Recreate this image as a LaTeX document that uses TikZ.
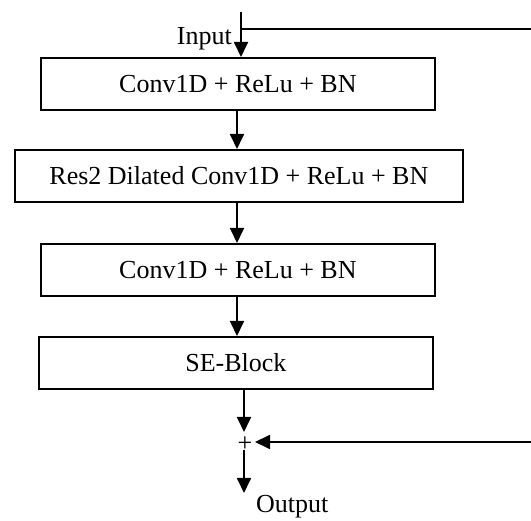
\documentclass[tikz,border=0pt]{standalone}
\usepackage{fontspec}
\setmainfont{Liberation Serif}
\usetikzlibrary{arrows.meta}
\begin{document}
\begin{tikzpicture}[x=1pt,y=-1pt,
  every node/.style={font=\fontsize{26}{30}\selectfont},
  blk/.style={draw,line width=1.8pt,inner sep=0pt,anchor=north west},
  ln/.style={line width=1.8pt},
  arr/.style={ln,-{Triangle[width=14pt,length=15pt]}}]
\useasboundingbox (0,0) rectangle (531,521);
\node[blk,minimum width=394pt,minimum height=52pt] (b1) at (40,57) {Conv1D + ReLu + BN};
\node[blk,minimum width=448pt,minimum height=52pt] (b2) at (14,149) {Res2 Dilated Conv1D + ReLu + BN};
\node[blk,minimum width=394pt,minimum height=52pt] (b3) at (40,243) {Conv1D + ReLu + BN};
\node[blk,minimum width=394pt,minimum height=52pt] (b4) at (38,336) {SE-Block};
\coordinate (intop) at (241,12);
\coordinate (inin) at (241,57);
\coordinate (injoin) at (241,29);
\coordinate (inright) at (531,29);
\node[anchor=base east,inner sep=0pt] (inlbl) at (232,45) {Input};
\draw[arr] (intop) -- (inin);
\draw[ln] (injoin) -- (inright);
\draw[arr] (b1.south -| 237,0) -- (b2.north -| 237,0);
\draw[arr] (b2.south -| 237,0) -- (b3.north -| 237,0);
\draw[arr] (b3.south -| 237,0) -- (b4.north -| 237,0);
\node[inner sep=0pt] (plus) at (245,444) {+};
\coordinate (addtop) at (244,432);
\coordinate (addbot) at (244,450);
\coordinate (outend) at (244,493);
\coordinate (resright) at (531,442);
\coordinate (resend) at (255,442);
\draw[arr] (b4.south -| addtop) -- (addtop);
\draw[arr] (resright) -- (resend);
\draw[arr] (addbot) -- (outend);
\node[anchor=base west,inner sep=0pt] (outlbl) at (256,513) {Output};
\end{tikzpicture}
\end{document}
